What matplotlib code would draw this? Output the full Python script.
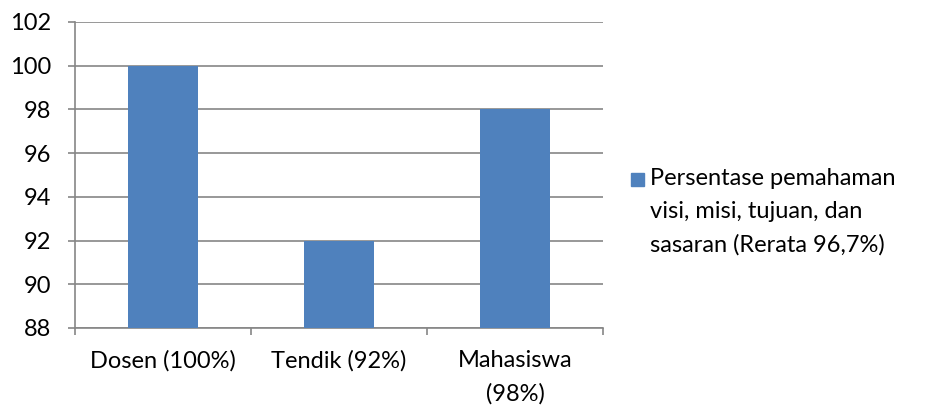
import matplotlib.pyplot as plt
from matplotlib.patches import Rectangle

categories = ["Dosen (100%)", "Tendik (92%)", "Mahasiswa\n(98%)"]
values = [100, 92, 98]
series_label = "Persentase pemahaman\nvisi, misi, tujuan, dan\nsasaran (Rerata 96,7%)"
yticks = [88, 90, 92, 94, 96, 98, 100, 102]

bar_color = "#4F81BD"
grid_color = "#868686"

plt.rcParams["font.family"] = ["Lato", "DejaVu Sans"]

W, H = 931, 407
fig = plt.figure(figsize=(W / 100, H / 100), dpi=100)
ax = fig.add_axes([75 / W, 1 - 328 / H, (603 - 75) / W, (328 - 22) / H])

x = range(len(categories))
ax.bar(x, [v - yticks[0] for v in values], bottom=yticks[0], width=0.4,
       color=bar_color, zorder=3)

ax.set_xlim(-0.5, len(categories) - 0.5)
ax.set_ylim(yticks[0], yticks[-1])
ax.set_yticks(yticks)
ax.yaxis.grid(True, color=grid_color, linewidth=1.2, zorder=0)
ax.set_axisbelow(True)

# category ticks between bars
ax.set_xticks([i - 0.5 for i in range(len(categories) + 1)])
ax.set_xticklabels([])
ax.set_xticks(list(x), minor=True)
ax.set_xticklabels(categories, minor=True, fontsize=17, color="#000000")
for t in ax.get_xticklabels(minor=True):
    t.set_linespacing(1.7)
ax.tick_params(axis="x", which="major", length=5, width=1.2, color=grid_color, direction="out")
ax.tick_params(axis="x", which="minor", length=0, pad=16)
ax.tick_params(axis="y", length=5, width=1.2, color=grid_color, labelsize=17, pad=12)

for s in ["top", "right"]:
    ax.spines[s].set_visible(False)
for s in ["left", "bottom"]:
    ax.spines[s].set_color(grid_color)
    ax.spines[s].set_linewidth(1.2)

# legend drawn by hand so the swatch sits on the first line
fig.patches.append(Rectangle((631 / W, 1 - 186 / H), 13 / W, 13 / H,
                             transform=fig.transFigure, color=bar_color))
fig.text(650 / W, 1 - 168 / H, series_label, fontsize=17, va="top", ha="left",
         linespacing=1.7)

fig.savefig("out.png", dpi=100)
